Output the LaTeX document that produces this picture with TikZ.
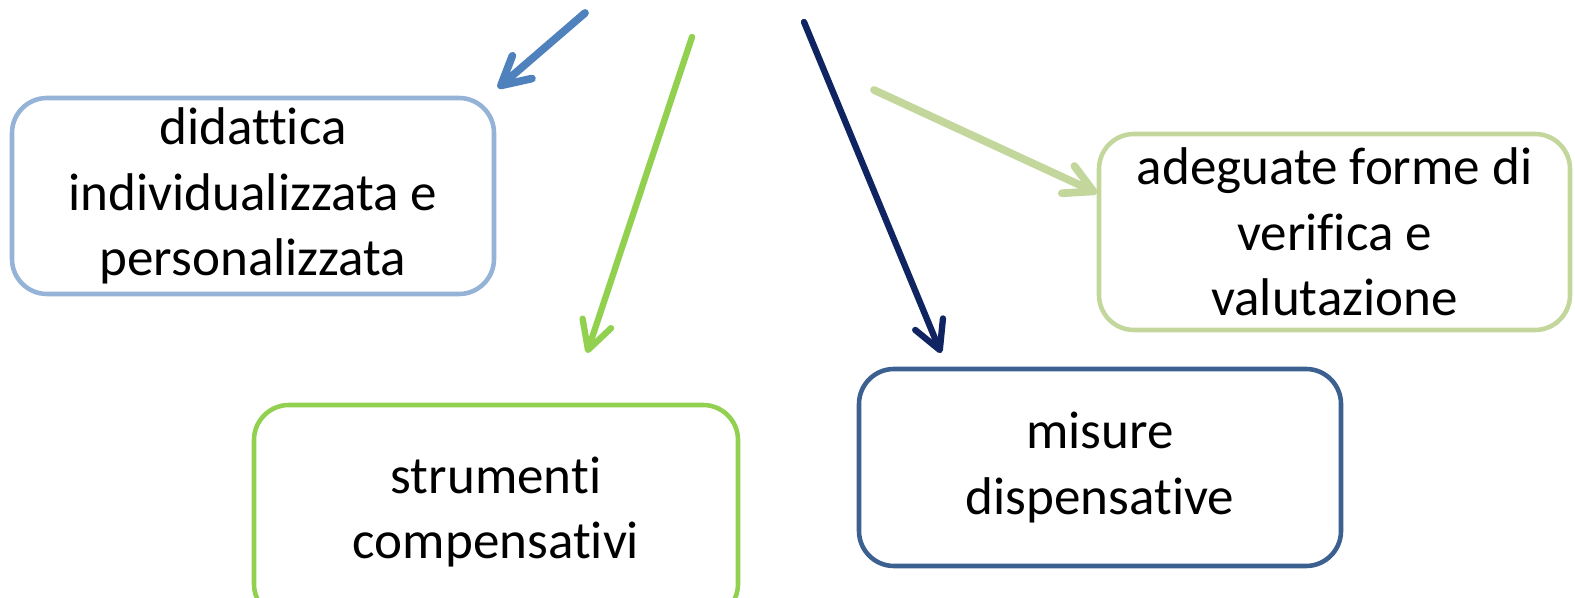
\documentclass[tikz,border=0pt]{standalone}
\usepackage{fontspec}
\setmainfont[Ligatures=NoCommon]{Carlito}
\usepackage{xcolor}
\usetikzlibrary{arrows.meta}
\definecolor{didablue}{HTML}{95B3D7}
\definecolor{arrowblue}{HTML}{4F81BD}
\definecolor{strugreen}{HTML}{92D050}
\definecolor{misunavy}{HTML}{3C6090}
\definecolor{arrownavy}{HTML}{0F2461}
\definecolor{adegreen}{HTML}{C3D69B}
\tikzset{
roundboxv1/.style={rectangle, rounded corners=3.5mm, draw, fill=none, line width=1.3pt, inner sep=0pt, align=center, minimum width=48.2mm, minimum height=19.6mm, font=\fontsize{15.1}{18.6}\selectfont},
barbarrowv1/.style={line cap=round, -{Straight Barb[length=2.8mm,width=3mm,round]}},
}

\begin{document}
\begin{tikzpicture}[x=0.1mm,y=-0.1mm]
\useasboundingbox (0,0) rectangle (1575,598);

\node[roundboxv1,draw=didablue] at (253,196) (dida) {didattica\\individualizzata e\\personalizzata};
\node[roundboxv1,draw=strugreen,minimum width=48.4mm,minimum height=21.4mm] at (496,512) (stru) {strumenti\\compensativi};
\node[roundboxv1,draw=misunavy,minimum height=19.7mm] at (1100,467.5) (misu) {misure\\dispensative};
\node[roundboxv1,draw=adegreen,minimum width=47.1mm] at (1334.5,232) (adeg) {adeguate forme di\\verifica e\\valutazione};

\coordinate (a1) at (585,13);
\coordinate (b1) at (498,88);
\coordinate (a2) at (692,37);
\coordinate (b2) at (587,353);
\coordinate (a3) at (804,22);
\coordinate (b3) at (941,353);
\coordinate (a4) at (874,90);
\coordinate (b4) at (1097,193);

\draw[barbarrowv1,arrowblue,line width=2.2pt] (a1) -- (b1);
\draw[barbarrowv1,strugreen,line width=1.8pt] (a2) -- (b2);
\draw[barbarrowv1,arrownavy,line width=1.8pt] (a3) -- (b3);
\draw[barbarrowv1,adegreen,line width=2.2pt] (a4) -- (b4);

\end{tikzpicture}
\end{document}
